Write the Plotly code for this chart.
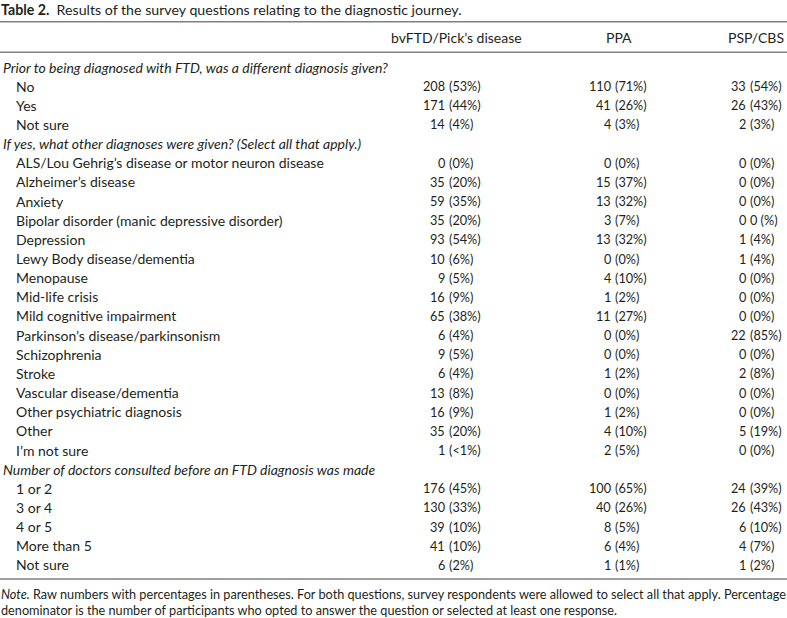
import plotly.graph_objects as go

# ---------------- data ----------------
title_bold = "Table 2."
title_text = "Results of the survey questions relating to the diagnostic journey."

columns = ["bvFTD/Pick’s disease", "PPA", "PSP/CBS"]

section_titles = [
    "Prior to being diagnosed with FTD, was a different diagnosis given?",
    "If yes, what other diagnoses were given? (Select all that apply.)",
    "Number of doctors consulted before an FTD diagnosis was made",
]

q1_items = ["No", "Yes", "Not sure"]
q1_bvftd = ["208 (53%)", "171 (44%)", "14 (4%)"]
q1_ppa = ["110 (71%)", "41 (26%)", "4 (3%)"]
q1_psp = ["33 (54%)", "26 (43%)", "2 (3%)"]

q2_items = [
    "ALS/Lou Gehrig’s disease or motor neuron disease",
    "Alzheimer’s disease",
    "Anxiety",
    "Bipolar disorder (manic depressive disorder)",
    "Depression",
    "Lewy Body disease/dementia",
    "Menopause",
    "Mid-life crisis",
    "Mild cognitive impairment",
    "Parkinson’s disease/parkinsonism",
    "Schizophrenia",
    "Stroke",
    "Vascular disease/dementia",
    "Other psychiatric diagnosis",
    "Other",
    "I’m not sure",
]
q2_bvftd = ["0 (0%)", "35 (20%)", "59 (35%)", "35 (20%)", "93 (54%)", "10 (6%)",
            "9 (5%)", "16 (9%)", "65 (38%)", "6 (4%)", "9 (5%)", "6 (4%)",
            "13 (8%)", "16 (9%)", "35 (20%)", "1 (<1%)"]
q2_ppa = ["0 (0%)", "15 (37%)", "13 (32%)", "3 (7%)", "13 (32%)", "0 (0%)",
          "4 (10%)", "1 (2%)", "11 (27%)", "0 (0%)", "0 (0%)", "1 (2%)",
          "0 (0%)", "1 (2%)", "4 (10%)", "2 (5%)"]
q2_psp = ["0 (0%)", "0 (0%)", "0 (0%)", "0 0 (%)", "1 (4%)", "1 (4%)",
          "0 (0%)", "0 (0%)", "0 (0%)", "22 (85%)", "0 (0%)", "2 (8%)",
          "0 (0%)", "0 (0%)", "5 (19%)", "0 (0%)"]

q3_items = ["1 or 2", "3 or 4", "4 or 5", "More than 5", "Not sure"]
q3_bvftd = ["176 (45%)", "130 (33%)", "39 (10%)", "41 (10%)", "6 (2%)"]
q3_ppa = ["100 (65%)", "40 (26%)", "8 (5%)", "6 (4%)", "1 (1%)"]
q3_psp = ["24 (39%)", "26 (43%)", "6 (10%)", "4 (7%)", "1 (2%)"]

note_line1 = ("<i>Note.</i> Raw numbers with percentages in parentheses. For both questions, "
              "survey respondents were allowed to select all that apply. Percentage")
note_line2 = ("denominator is the number of participants who opted to answer the question "
              "or selected at least one response.")

# ---------------- layout constants ----------------
W, H = 787, 618
FONT = "Lato, 'Open Sans', sans-serif"
TXT = "#231f20"
RULE = "#808080"
FS_LABEL = 14
FS_TITLE = 14.2
FS_VAL = 12.7
FS_NOTE = 12.7

row_y0 = 67.0
row_dy = 19.15
col_split = [445, 611, 746]       # right edge of counts / start of parentheses
col_head_x = [456, 619, 755.5]
label_x_section = 2
label_x_item = 15

sections = [
    (section_titles[0], q1_items, [q1_bvftd, q1_ppa, q1_psp]),
    (section_titles[1], q2_items, [q2_bvftd, q2_ppa, q2_psp]),
    (section_titles[2], q3_items, [q3_bvftd, q3_ppa, q3_psp]),
]

ann = []


def add(text, x, y, xanchor="left", size=FS_LABEL, italic=False):
    ann.append(dict(text=(f"<i>{text}</i>" if italic else text), x=x, y=y,
                    xref="x", yref="y", xanchor=xanchor, yanchor="middle",
                    showarrow=False, font=dict(family=FONT, size=size, color=TXT),
                    borderpad=0))


# title
add(f"<b>{title_bold}</b>  {title_text}", 0, 9.5, size=FS_TITLE)

# header
for cx, name in zip(col_head_x, columns):
    add(name, cx, 37.5, xanchor="center")

row = 0
for sec_title, items, cols in sections:
    y = row_y0 + row * row_dy
    add(sec_title, label_x_section, y, italic=True)
    row += 1
    for i, item in enumerate(items):
        y = row_y0 + row * row_dy
        add(item, label_x_item, y)
        for c, vals in enumerate(cols):
            cnt, rest = vals[i].split(" ", 1)
            add(cnt, col_split[c] + 1, y, xanchor="right", size=FS_VAL)
            add(rest, col_split[c] + 3, y, xanchor="left", size=FS_VAL)
        row += 1

# note
add(note_line1, 0, 594, size=FS_NOTE)
add(note_line2, 0, 609.5, size=FS_NOTE)

shapes = []
for yy in (21.7, 52.2, 579):
    shapes.append(dict(type="line", xref="x", yref="y", x0=0, x1=W, y0=yy, y1=yy,
                       line=dict(color=RULE, width=1.4)))

fig = go.Figure()
fig.add_trace(go.Scatter(x=[0, W], y=[0, H], mode="markers",
                         marker=dict(opacity=0), hoverinfo="skip", showlegend=False))
fig.update_layout(
    width=W, height=H, margin=dict(l=0, r=0, t=0, b=0),
    paper_bgcolor="white", plot_bgcolor="white",
    xaxis=dict(range=[0, W], visible=False, fixedrange=True),
    yaxis=dict(range=[H, 0], visible=False, fixedrange=True),
    annotations=ann, shapes=shapes, showlegend=False,
)
fig.write_html("out.html", config={"displayModeBar": False},
               post_script="document.body.style.margin='0';document.body.style.overflow='hidden';")
